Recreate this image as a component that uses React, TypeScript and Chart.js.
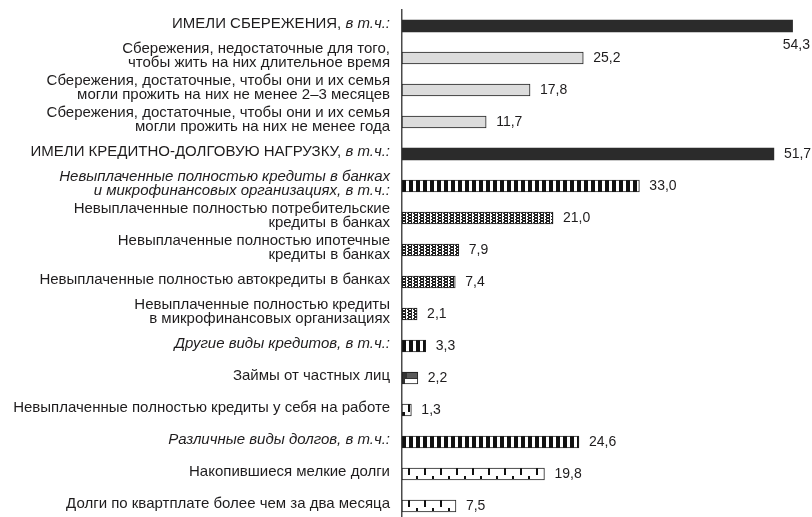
import React, { useEffect, useRef } from "react";
import { Chart, registerables } from "chart.js";

Chart.register(...registerables);

// ---------- data ----------
const categories: string[][] = [
  ["ИМЕЛИ СБЕРЕЖЕНИЯ, в т.ч.:"],
  ["Сбережения, недостаточные для того,", "чтобы жить на них длительное время"],
  ["Сбережения, достаточные, чтобы они и их семья", "могли прожить на них не менее 2–3 месяцев"],
  ["Сбережения, достаточные, чтобы они и их семья", "могли прожить на них не менее года"],
  ["ИМЕЛИ КРЕДИТНО-ДОЛГОВУЮ НАГРУЗКУ, в т.ч.:"],
  ["Невыплаченные полностью кредиты в банках", "и микрофинансовых организациях, в т.ч.:"],
  ["Невыплаченные полностью потребительские", "кредиты в банках"],
  ["Невыплаченные полностью ипотечные", "кредиты в банках"],
  ["Невыплаченные полностью автокредиты в банках"],
  ["Невыплаченные полностью кредиты", "в микрофинансовых организациях"],
  ["Другие виды кредитов, в т.ч.:"],
  ["Займы от частных лиц"],
  ["Невыплаченные полностью кредиты у себя на работе"],
  ["Различные виды долгов, в т.ч.:"],
  ["Накопившиеся мелкие долги"],
  ["Долги по квартплате более чем за два месяца"],
];

const values: number[] = [54.3, 25.2, 17.8, 11.7, 51.7, 33.0, 21.0, 7.9, 7.4, 2.1, 3.3, 2.2, 1.3, 24.6, 19.8, 7.5];

const italicRows: number[] = [5, 10, 13];

const fillKinds: string[] = [
  "solid", "light", "light", "light",
  "solid", "stripes", "dots", "dots", "dots", "dots",
  "stripes", "brick", "notch",
  "stripes", "ruler", "ruler",
];

const xMax = 57;

// ---------- style ----------
const FONT = "'Liberation Sans', Arial, sans-serif";
const TEXT_COLOR = "#1e1c1d";
const LABEL_SIZE = 15;
const VALUE_SIZE = 14;
const LINE_H = 13.5;
const LABEL_RIGHT = 390;
const BAR_H = 12;
const VALUE_GAP = 10;

function makeTile(kind: string): HTMLCanvasElement {
  const c = document.createElement("canvas");
  const g = c.getContext("2d")!;
  const rect = (x: number, y: number, w: number, h: number, col: string) => {
    g.fillStyle = col;
    g.fillRect(x, y, w, h);
  };
  if (kind === "stripes") {
    c.width = 7; c.height = BAR_H;
    rect(0, 0, 7, BAR_H, "#fff");
    rect(0, 0, 4, BAR_H, "#111");
  } else if (kind === "dots") {
    c.width = 6; c.height = 6;
    rect(0, 0, 6, 6, "#fff");
    rect(0, 0, 4, 6, "#222");
    rect(1, 1, 2, 1, "#fff");
    rect(1, 4, 2, 1, "#fff");
    rect(5, 1, 1, 1, "#222");
    rect(5, 4, 1, 1, "#222");
  } else if (kind === "brick") {
    c.width = 16; c.height = BAR_H;
    rect(0, 0, 16, BAR_H, "#fff");
    rect(0, 0, 16, 7, "#333");
    rect(5, 1, 11, 5, "#5a5a5a");
    rect(0, 7, 3, 5, "#333");
  } else if (kind === "notch") {
    c.width = 16; c.height = BAR_H;
    rect(0, 0, 16, BAR_H, "#fff");
    rect(6, 0, 2, 8, "#111");
    rect(0, 8, 3, 4, "#111");
  } else {
    // ruler
    c.width = 16; c.height = BAR_H;
    rect(0, 0, 16, BAR_H, "#fff");
    rect(6, 0, 2, 7, "#111");
    rect(14, 8, 2, 3, "#111");
  }
  return c;
}

const fmt = (v: number) => v.toFixed(1).replace(".", ",");

function drawLabelLine(ctx: CanvasRenderingContext2D, line: string, x: number, y: number, italic: boolean) {
  const suffix = "в т.ч.:";
  let main = line;
  let tail = "";
  if (line.endsWith(suffix)) {
    main = line.slice(0, line.length - suffix.length);
    tail = suffix;
  }
  const mainFont = `${italic ? "italic " : ""}${LABEL_SIZE}px ${FONT}`;
  const tailFont = `italic ${LABEL_SIZE}px ${FONT}`;
  ctx.textAlign = "right";
  let right = x;
  if (tail) {
    ctx.font = tailFont;
    ctx.fillText(tail, right, y);
    right -= ctx.measureText(tail).width;
  }
  ctx.font = mainFont;
  ctx.fillText(main, right, y);
}

const labelsPlugin = {
  id: "rowLabels",
  afterDatasetsDraw(chart: any) {
    const ctx: CanvasRenderingContext2D = chart.ctx;
    const ys = chart.scales.y;
    const xs = chart.scales.x;
    ctx.save();
    ctx.fillStyle = TEXT_COLOR;
    ctx.textBaseline = "middle";
    categories.forEach((lines, i) => {
      const yc = ys.getPixelForValue(i) - 2;
      const n = lines.length;
      lines.forEach((line, k) => {
        const y = yc + (k - (n - 1) / 2) * LINE_H;
        drawLabelLine(ctx, line, LABEL_RIGHT, y, italicRows.includes(i));
      });
    });
    ctx.font = `${VALUE_SIZE}px ${FONT}`;
    values.forEach((v, i) => {
      const txt = fmt(v);
      const xe = xs.getPixelForValue(v);
      const yc = ys.getPixelForValue(i);
      const w = ctx.measureText(txt).width;
      if (xe + VALUE_GAP + w > chart.width + 1) {
        ctx.textAlign = "right";
        ctx.fillText(txt, chart.width - 2, yc + BAR_H / 2 + 13);
      } else {
        ctx.textAlign = "left";
        ctx.fillText(txt, xe + VALUE_GAP, yc);
      }
    });
    ctx.restore();
  },
};

export default function App() {
  const ref = useRef<HTMLCanvasElement | null>(null);
  useEffect(() => {
    if (!ref.current) return;
    const tiles: Record<string, HTMLCanvasElement> = {};
    ["stripes", "dots", "brick", "notch", "ruler"].forEach((k) => (tiles[k] = makeTile(k)));

    const chart = new Chart(ref.current, {
      type: "bar",
      data: {
        labels: categories.map((l) => l.join(" ")),
        datasets: [
          {
            data: values,
            barThickness: BAR_H,
            borderSkipped: false,
            borderColor: "#222",
            borderWidth: fillKinds.map((k) => (k === "solid" ? 0 : 1)),
            backgroundColor: (c: any) => {
              const kind = fillKinds[c.dataIndex];
              if (kind === "solid") return "#2b2b2b";
              if (kind === "light") return "#dcdcdc";
              const ch = c.chart;
              const xs = ch.scales && ch.scales.x;
              const ys = ch.scales && ch.scales.y;
              if (!xs || !ys || !ch.chartArea || !tiles[kind]) return "#888";
              const pat = ch.ctx.createPattern(tiles[kind], "repeat");
              if (!pat) return "#888";
              const x0 = xs.getPixelForValue(0);
              const yc = ys.getPixelForValue(c.dataIndex);
              pat.setTransform(new DOMMatrix().translate(x0, yc - BAR_H / 2));
              return pat;
            },
          },
        ],
      },
      options: {
        indexAxis: "y",
        responsive: false,
        animation: false,
        layout: { padding: { top: 10, bottom: 2, left: 0, right: 0 } },
        plugins: { legend: { display: false }, tooltip: { enabled: false } },
        scales: {
          x: { display: false, min: 0, max: xMax },
          y: {
            ticks: { display: false },
            grid: { display: false, drawTicks: false },
            border: { display: true, color: "#4a4a4a", width: 1.5 },
            afterFit: (s: any) => {
              s.width = 402;
            },
          },
        },
      },
      plugins: [labelsPlugin],
    });
    return () => chart.destroy();
  }, []);

  return (
    <div style={{ position: "absolute", left: 0, top: 0, width: 812, height: 517, overflow: "hidden", background: "#fff" }}>
      <canvas ref={ref} width={812} height={524} style={{ display: "block" }} />
    </div>
  );
}
